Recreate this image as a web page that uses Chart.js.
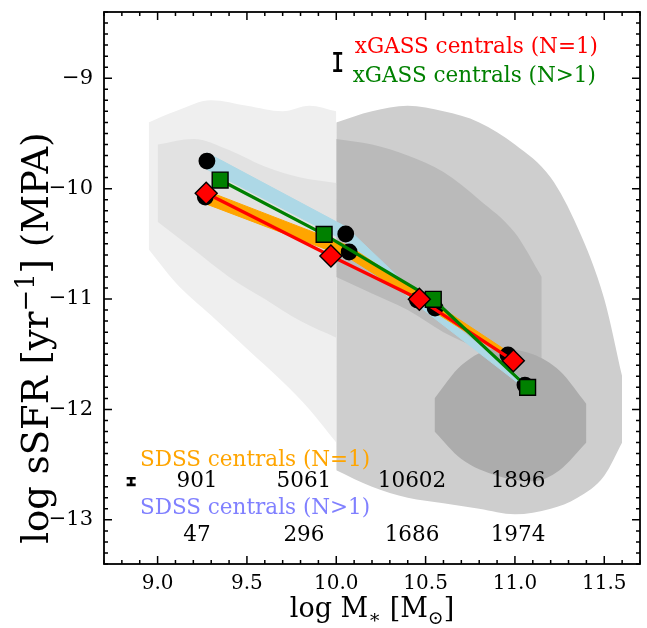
<!DOCTYPE html>
<html>
<head>
<meta charset="utf-8">
<script src="https://cdn.jsdelivr.net/npm/chart.js@4.4.1/dist/chart.umd.min.js"></script>
<style>
  html, body { margin: 0; padding: 0; background: #fff; overflow: hidden; }
  #caixa { position: relative; width: 647px; height: 628px; }
  #grafico { display: block; }
</style>
</head>
<body>
<div id="caixa"><canvas id="grafico"></canvas></div>
<script>
// ---- medians per stellar-mass bin ----
const sdssN1Mass = [9.267, 10.072, 10.553, 10.961];
const sdssN1SSFR = [-10.076, -10.574, -11.081, -11.507];
const sdssN1Err = [0.06, 0.055, 0.04, 0.03];

const sdssNgt1Mass = [9.276, 10.053, 10.454, 11.056];
const sdssNgt1SSFR = [-9.75, -10.411, -11.009, -11.779];
const sdssNgt1Err = [0.075, 0.065, 0.045, 0.03];

const xgassN1Mass = [9.272, 9.970, 10.465, 10.991];
const xgassN1SSFR = [-10.042, -10.610, -11.002, -11.558];

const xgassNgt1Mass = [9.350, 9.932, 10.543, 11.071];
const xgassNgt1SSFR = [-9.922, -10.414, -11.002, -11.800];

// galaxies per bin
const sdssN1Counts = [901, 5061, 10602, 1896];
const sdssNgt1Counts = [47, 296, 1686, 1974];

// typical uncertainty bars (xGASS top, SDSS bottom)
const typicalErrMass = [10.008, 8.852];
const typicalErrSSFR = [-8.853, -12.653];
const typicalErrSize = [0.078, 0.03];

// ---- SDSS galaxy cloud, outlined as envelopes ----
const lowMassX  = [8.95, 9.1, 9.3, 9.5, 9.7, 9.85, 10.0];
const lowMassHi = [-9.4, -9.3, -9.2, -9.25, -9.3, -9.25, -9.3];
const lowMassLo = [-10.55, -10.85, -11.15, -11.45, -11.75, -12.0, -12.3];

const lowCoreX  = [9.0, 9.2, 9.4, 9.6, 9.8, 10.0];
const lowCoreHi = [-9.6, -9.55, -9.65, -9.8, -9.9, -9.95];
const lowCoreLo = [-10.3, -10.55, -10.8, -11.0, -11.2, -11.35];

const highMassX  = [10.0, 10.2, 10.4, 10.6, 10.8, 11.0, 11.2, 11.35, 11.5, 11.6];
const highMassHi = [-9.4, -9.3, -9.25, -9.3, -9.4, -9.6, -9.9, -10.35, -11.0, -11.7];
const highMassLo = [-12.55, -12.7, -12.8, -12.85, -12.9, -12.95, -12.9, -12.8, -12.6, -12.3];

const msCoreX  = [10.0, 10.2, 10.4, 10.6, 10.8, 11.0, 11.15];
const msCoreHi = [-9.55, -9.6, -9.7, -9.85, -10.1, -10.4, -10.8];
const msCoreLo = [-10.8, -10.95, -11.1, -11.3, -11.45, -11.6, -11.7];

const passiveX  = [10.55, 10.7, 10.9, 11.1, 11.25, 11.4];
const passiveHi = [-11.9, -11.6, -11.45, -11.5, -11.65, -11.95];
const passiveLo = [-12.2, -12.45, -12.6, -12.65, -12.55, -12.3];

// axis ticks
const massTicks = [9.0, 9.5, 10.0, 10.5, 11.0, 11.5];
const ssfrTicks = [-13, -12, -11, -10, -9];

const SERIF = '"DejaVu Serif", "Liberation Serif", serif';

function pontos(xs, ys, desvio, sinal) {
    return xs.map((x, i) => ({ x: x, y: ys[i] + (desvio ? sinal * desvio[i] : 0) }));
}

const datasets = [];

function camadaNuvem(xs, hi, lo, cor, ordem) {
    const base = { borderColor: 'rgba(0,0,0,0)', borderWidth: 0, pointRadius: 0, cubicInterpolationMode: 'monotone', order: ordem };
    datasets.push(Object.assign({ data: pontos(xs, hi), fill: false }, base));
    datasets.push(Object.assign({ data: pontos(xs, lo), fill: '-1', backgroundColor: cor }, base));
}

function faixa(xs, ys, err, cor, ordem) {
    const base = { borderColor: cor, borderWidth: 1, pointRadius: 0, tension: 0, order: ordem };
    datasets.push(Object.assign({ data: pontos(xs, ys, err, 1), fill: false }, base));
    datasets.push(Object.assign({ data: pontos(xs, ys, err, -1), fill: '-1', backgroundColor: cor }, base));
}

camadaNuvem(lowMassX, lowMassHi, lowMassLo, '#efefef', 110);
camadaNuvem(lowCoreX, lowCoreHi, lowCoreLo, '#e2e2e2', 108);
camadaNuvem(highMassX, highMassHi, highMassLo, '#cecece', 106);
camadaNuvem(msCoreX, msCoreHi, msCoreLo, '#bababa', 104);
camadaNuvem(passiveX, passiveHi, passiveLo, '#acacac', 102);

faixa(sdssNgt1Mass, sdssNgt1SSFR, sdssNgt1Err, '#add8e6', 60);
faixa(sdssN1Mass, sdssN1SSFR, sdssN1Err, '#ffa500', 55);

// black circles on the SDSS medians
datasets.push({ data: pontos(sdssNgt1Mass, sdssNgt1SSFR), showLine: false, pointStyle: 'circle', pointRadius: 8.4, pointBackgroundColor: '#000', pointBorderWidth: 0, order: 40 });
datasets.push({ data: pontos(sdssN1Mass, sdssN1SSFR), showLine: false, pointStyle: 'circle', pointRadius: 8.4, pointBackgroundColor: '#000', pointBorderWidth: 0, order: 40 });

// xGASS lines
datasets.push({ data: pontos(xgassN1Mass, xgassN1SSFR), borderColor: '#ff0000', borderWidth: 3.2, pointRadius: 0, tension: 0, fill: false, order: 32 });
datasets.push({ data: pontos(xgassNgt1Mass, xgassNgt1SSFR), borderColor: '#008000', borderWidth: 3.2, pointRadius: 0, tension: 0, fill: false, order: 31 });

// xGASS markers
datasets.push({ data: pontos(xgassNgt1Mass, xgassNgt1SSFR), showLine: false, pointStyle: 'rect', pointRadius: 11.2, pointBackgroundColor: '#008000', pointBorderColor: '#000', pointBorderWidth: 1.4, order: 20 });
datasets.push({ data: pontos(xgassN1Mass, xgassN1SSFR), showLine: false, pointStyle: 'rectRot', pointRadius: 11, pointBackgroundColor: '#ff0000', pointBorderColor: '#000', pointBorderWidth: 1.4, order: 15 });

// ================= TEXTOS E MOLDURA =================
const rotulos = [
    { texto: 'xGASS centrals (N=1)', cor: '#ff0000', fx: 0.468, fy: 0.065 },
    { texto: 'xGASS centrals (N>1)', cor: '#008000', fx: 0.464, fy: 0.116 },
    { texto: 'SDSS centrals (N=1)', cor: '#ffa500', fx: 0.067, fy: 0.813 },
    { texto: 'SDSS centrals (N>1)', cor: '#8080ff', fx: 0.067, fy: 0.899 }
];
const colunasContagem = [0.1735, 0.373, 0.5746, 0.7724];

function textoComIndice(c, partes, x, y, tam) {
    // partes: [texto, deslocamento vertical em em, escala]
    let pos = x;
    partes.forEach(p => {
        c.font = (tam * p[2]) + 'px ' + SERIF;
        c.fillText(p[0], pos, y + p[1] * tam);
        pos += c.measureText(p[0]).width;
    });
    return pos - x;
}

function larguraPartes(c, partes, tam) {
    let w = 0;
    partes.forEach(p => { c.font = (tam * p[2]) + 'px ' + SERIF; w += c.measureText(p[0]).width; });
    return w;
}

const semPadding = () => ({ left: 0, top: 0, right: 0, bottom: 0 });

const decoracao = {
    id: 'decoracao',
    afterDatasetsDraw(chart) {
        const { ctx: c, chartArea: a, scales: { x, y } } = chart;
        c.save();

        // barras de erro típicas
        c.strokeStyle = '#000';
        c.lineWidth = 2.6;
        typicalErrMass.forEach((m, i) => {
            const px = x.getPixelForValue(m);
            const topo = y.getPixelForValue(typicalErrSSFR[i] + typicalErrSize[i]);
            const base = y.getPixelForValue(typicalErrSSFR[i] - typicalErrSize[i]);
            const cap = 4.5;
            c.beginPath();
            c.moveTo(px, topo); c.lineTo(px, base);
            c.moveTo(px - cap, topo); c.lineTo(px + cap, topo);
            c.moveTo(px - cap, base); c.lineTo(px + cap, base);
            c.stroke();
        });

        // legendas em texto
        const w = a.right - a.left, h = a.bottom - a.top;
        c.textBaseline = 'middle';
        c.textAlign = 'left';
        c.font = '21.5px ' + SERIF;
        rotulos.forEach(r => {
            c.fillStyle = r.cor;
            c.fillText(r.texto, a.left + r.fx * w, a.top + r.fy * h);
        });

        // contagens
        c.fillStyle = '#000';
        c.textAlign = 'center';
        sdssN1Counts.forEach((n, i) => c.fillText(String(n), a.left + colunasContagem[i] * w, a.top + 0.850 * h));
        sdssNgt1Counts.forEach((n, i) => c.fillText(String(n), a.left + colunasContagem[i] * w, a.top + 0.949 * h));

        // rótulos do eixo x
        c.font = '20px ' + SERIF;
        massTicks.forEach(v => c.fillText(v.toFixed(1), x.getPixelForValue(v), a.bottom + 20));

        // moldura e ticks para dentro
        c.strokeStyle = '#000';
        c.lineWidth = 1.5;
        for (let i = 87; i <= 117; i++) {
            const px = x.getPixelForValue(i / 10);
            const len = (i % 5 === 0) ? 8 : 4;
            c.beginPath();
            c.moveTo(px, a.bottom); c.lineTo(px, a.bottom - len);
            c.moveTo(px, a.top); c.lineTo(px, a.top + len);
            c.stroke();
        }
        for (let i = -134; i <= -84; i++) {
            const py = y.getPixelForValue(i / 10);
            const len = (i % 10 === 0) ? 8 : 4;
            c.beginPath();
            c.moveTo(a.left, py); c.lineTo(a.left + len, py);
            c.moveTo(a.right, py); c.lineTo(a.right - len, py);
            c.stroke();
        }
        c.lineWidth = 1.8;
        c.strokeRect(a.left, a.top, w, h);

        // títulos dos eixos
        c.fillStyle = '#000';
        c.textAlign = 'left';
        c.textBaseline = 'alphabetic';
        const tamX = 27;
        const tituloX = [['log M', 0, 1], ['\u2217', 0.22, 0.7], [' [M', 0, 1], ['\u2299', 0.25, 0.7], [']', 0, 1]];
        const wx = larguraPartes(c, tituloX, tamX);
        textoComIndice(c, tituloX, (a.left + a.right) / 2 - wx / 2, 617, tamX);

        const tamY = 37;
        const tituloY = [['log sSFR [yr', 0, 1], ['\u22121', -0.38, 0.7], ['] (MPA)', 0, 1]];
        const wy = larguraPartes(c, tituloY, tamY);
        c.translate(48, 338);
        c.rotate(-Math.PI / 2);
        textoComIndice(c, tituloY, -wy / 2, 0, tamY);

        c.restore();
    }
};

const grafico = new Chart(document.getElementById('grafico').getContext('2d'), {
    type: 'line',
    data: { datasets: datasets },
    options: {
        responsive: true,
        maintainAspectRatio: false,
        animation: false,
        events: [],
        layout: { autoPadding: false, padding: { top: 12, right: 7, left: 0, bottom: 0 } },
        plugins: { legend: { display: false }, tooltip: { enabled: false } },
        scales: {
            x: {
                type: 'linear', min: 8.7, max: 11.7,
                grid: { display: false, drawTicks: false }, border: { display: false },
                ticks: { display: false },
                afterFit: s => { s.height = 64; s.getPadding = semPadding; }
            },
            y: {
                type: 'linear', min: -13.4, max: -8.4,
                grid: { display: false, drawTicks: false }, border: { display: false },
                afterBuildTicks: s => { s.ticks = ssfrTicks.map(v => ({ value: v })); },
                afterFit: s => { s.width = 104; s.getPadding = semPadding; },
                ticks: { color: '#000', padding: 11, font: { family: SERIF, size: 21 }, callback: v => '\u2212' + Math.abs(v) }
            }
        }
    },
    plugins: [decoracao]
});
</script>
</body>
</html>
